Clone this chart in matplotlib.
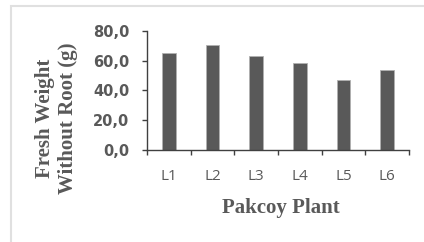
import matplotlib
matplotlib.use("Agg")
import matplotlib.pyplot as plt
from matplotlib.patches import Rectangle

categories = ["L1", "L2", "L3", "L4", "L5", "L6"]
values = [65.3, 70.2, 63.0, 58.5, 46.7, 53.6]
yticks = [0, 20, 40, 60, 80]
ytick_labels = ["0,0", "20,0", "40,0", "60,0", "80,0"]

W, H = 424, 242
fig = plt.figure(figsize=(W / 100, H / 100), dpi=100)
fig.patch.set_facecolor("white")

# light frame
fig.add_artist(Rectangle((11 / W, -0.1), 1.2, 1.1 - 6 / H, transform=fig.transFigure,
                         fill=False, edgecolor="#e0e0e0", linewidth=1.5))

ax = fig.add_axes([147 / W, 1 - 150 / H, (409 - 147) / W, (150 - 30.7) / H])
x = list(range(len(categories)))
ax.bar(x, values, width=0.31, color="#595959", edgecolor="#b0b0b0", linewidth=0.6, zorder=2)

ax.set_xlim(-0.5, len(categories) - 0.5)
ax.set_ylim(0, 80)
ax.set_yticks(yticks)
ax.set_yticklabels(ytick_labels, fontsize=10.5, fontweight="bold", color="#595959",
                   family="DejaVu Sans")
ax.set_xticks(x)
ax.set_xticklabels(categories, fontsize=11, color="#595959", family="Open Sans")
ax.set_xticks([i - 0.5 for i in range(len(categories) + 1)], minor=True)
ax.tick_params(axis="x", which="major", length=0, pad=14)
ax.tick_params(axis="x", which="minor", length=3.6, direction="out", color="#404040", width=1)
ax.tick_params(axis="y", length=3.6, direction="out", color="#404040", width=1, pad=9)

for s in ["top", "right"]:
    ax.spines[s].set_visible(False)
for s in ["left", "bottom"]:
    ax.spines[s].set_color("#404040")
    ax.spines[s].set_linewidth(1.0)

ax.set_ylabel("Fresh Weight\nWithout Root (g)", fontsize=15, fontweight="bold",
              family="Liberation Serif", color="#595959", linespacing=1.2)
ax.yaxis.label.set_va("center")
ax.yaxis.set_label_coords(-0.347, 0.265)
ax.set_xlabel("Pakcoy Plant", fontsize=15, fontweight="bold",
              family="Liberation Serif", color="#595959")
ax.xaxis.label.set_va("center")
ax.xaxis.set_label_coords(0.511, -0.486)

fig.savefig("out.png", dpi=100)
